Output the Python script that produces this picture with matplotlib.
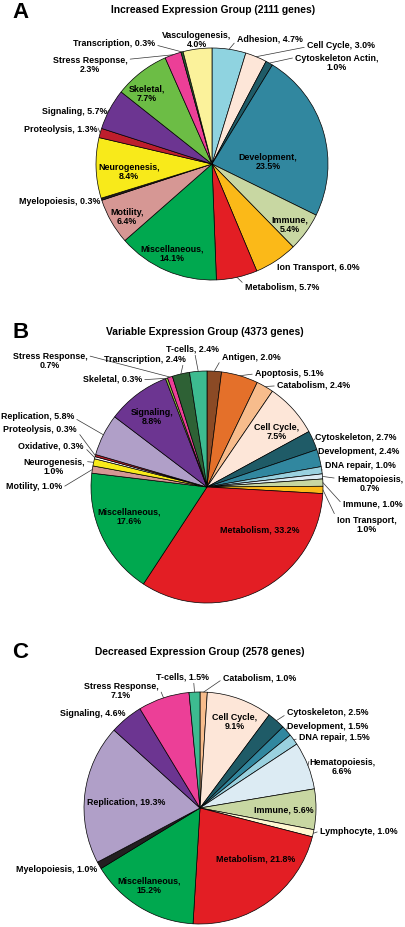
import numpy as np
import matplotlib
matplotlib.use("Agg")
import matplotlib.pyplot as plt

plt.rcParams['font.family'] = ['Liberation Sans', 'DejaVu Sans']
plt.rcParams['font.weight'] = 'bold'

W, H = 405, 928

# ---- panel A: increased expression ----
a_names = ["Adhesion", "Cell Cycle", "Cytoskeleton Actin", "Development", "Immune",
           "Ion Transport", "Metabolism", "Miscellaneous", "Motility", "Myelopoiesis",
           "Neurogenesis", "Proteolysis", "Signaling", "Skeletal", "Stress Response",
           "Transcription", "Vasculogenesis"]
a_vals = [4.7, 3.0, 1.0, 23.5, 5.4, 6.0, 5.7, 14.1, 6.4, 0.3, 8.4, 1.3, 5.7, 7.7, 2.3, 0.3, 4.0]
a_labels = ["Adhesion, 4.7%", "Cell Cycle, 3.0%", "Cytoskeleton Actin,\n1.0%",
            "Development,\n23.5%", "Immune,\n5.4%", "Ion Transport, 6.0%",
            "Metabolism, 5.7%", "Miscellaneous,\n14.1%", "Motility,\n6.4%",
            "Myelopoiesis, 0.3%", "Neurogenesis,\n8.4%", "Proteolysis, 1.3%",
            "Signaling, 5.7%", "Skeletal,\n7.7%", "Stress Response,\n2.3%",
            "Transcription, 0.3%", "Vasculogenesis,\n4.0%"]

# ---- panel B: variable expression ----
b_names = ["Antigen", "Apoptosis", "Catabolism", "Cell Cycle", "Cytoskeleton",
           "Development", "DNA repair", "Hematopoiesis", "Immune", "Ion Transport",
           "Metabolism", "Miscellaneous", "Motility", "Neurogenesis", "Oxidative",
           "Proteolysis", "Replication", "Signaling", "Skeletal", "Stress Response",
           "Transcription", "T-cells"]
b_vals = [2.0, 5.1, 2.4, 7.5, 2.7, 2.4, 1.0, 0.7, 1.0, 1.0, 33.2, 17.6, 1.0, 1.0,
          0.3, 0.3, 5.8, 8.8, 0.3, 0.7, 2.4, 2.4]
b_labels = ["Antigen, 2.0%", "Apoptosis, 5.1%", "Catabolism, 2.4%", "Cell Cycle,\n7.5%",
            "Cytoskeleton, 2.7%", "Development, 2.4%", "DNA repair, 1.0%",
            "Hematopoiesis,\n0.7%", "Immune, 1.0%", "Ion Transport,\n1.0%",
            "Metabolism, 33.2%", "Miscellaneous,\n17.6%", "Motility, 1.0%",
            "Neurogenesis,\n1.0%", "Oxidative, 0.3%", "Proteolysis, 0.3%",
            "Replication, 5.8%", "Signaling,\n8.8%", "Skeletal, 0.3%",
            "Stress Response,\n0.7%", "Transcription, 2.4%", "T-cells, 2.4%"]

# ---- panel C: decreased expression ----
c_names = ["Catabolism", "Cell Cycle", "Cytoskeleton", "Development", "DNA repair",
           "Hematopoiesis", "Immune", "Lymphocyte", "Metabolism", "Miscellaneous",
           "Myelopoiesis", "Replication", "Signaling", "Stress Response", "T-cells"]
c_vals = [1.0, 9.1, 2.5, 1.5, 1.5, 6.6, 5.6, 1.0, 21.8, 15.2, 1.0, 19.3, 4.6, 7.1, 1.5]
c_labels = ["Catabolism, 1.0%", "Cell Cycle,\n9.1%", "Cytoskeleton, 2.5%",
            "Development, 1.5%", "DNA repair, 1.5%", "Hematopoiesis,\n6.6%",
            "Immune, 5.6%", "Lymphocyte, 1.0%", "Metabolism, 21.8%",
            "Miscellaneous,\n15.2%", "Myelopoiesis, 1.0%", "Replication, 19.3%",
            "Signaling, 4.6%", "Stress Response,\n7.1%", "T-cells, 1.5%"]

titles = ["Increased Expression Group (2111 genes)",
          "Variable Expression Group (4373 genes)",
          "Decreased Expression Group (2578 genes)"]
letters = ["A", "B", "C"]

colors = {
    "Adhesion": "#8fd3e0", "Cell Cycle": "#fde6d8", "Cytoskeleton Actin": "#1f5b67",
    "Cytoskeleton": "#1f5b67", "Development": "#31879f", "Immune": "#c8d7a2",
    "Ion Transport": "#fbb918", "Metabolism": "#e31e24", "Miscellaneous": "#00a84f",
    "Motility": "#d69794", "Myelopoiesis": "#231f20", "Neurogenesis": "#f8ea1a",
    "Proteolysis": "#be1e2d", "Signaling": "#6c3591", "Stress Response": "#ec3f97",
    "Transcription": "#2e6135", "Vasculogenesis": "#fbf29b", "Antigen": "#8b4a25",
    "Apoptosis": "#e4702a", "Catabolism": "#f7bc8c", "DNA repair": "#9ad1df",
    "Hematopoiesis": "#dcebf3", "Oxidative": "#ffffff", "Replication": "#b09fc8",
    "T-cells": "#3dbb90", "Lymphocyte": "#fff8d2",
}
skeletal_col = ["#6cbd45", "#8dc63f"]

# layout: pie centre / radius in pixels, label (x, y, ha, relpos of leader line)
centers = [(212, 165), (207, 488), (200, 809)]
R = 116
title_pos = [(213, 10), (205, 332), (200, 652)]
letter_pos = [(12, 13), (12, 333), (12, 653)]

a_lay = [(237, 39, "left", (0, 0.3)), (307, 46, "left", (0, 0.3)),
         (337, 63, "center", (0, 0.75)), (268, 162, "center", None),
         (290, 225, "center", None), (277, 268, "left", None),
         (245, 287, "left", (0, 0.6)), (172, 254, "center", None),
         (127, 217, "center", None), (100, 202, "right", None),
         (129, 172, "center", None), (98, 129, "right", (1, 0.5)),
         (107, 112, "right", (1, 0.3)), (147, 94, "center", None),
         (90, 65, "center", (1, 0.75)), (155, 44, "right", (1, 0.3)),
         (197, 40, "center", None)]
b_lay = [(222, 357, "left", (0, 0.3)), (255, 373, "left", (0, 0.3)),
         (277, 385, "left", (0, 0.3)), (277, 432, "center", None),
         (315, 438, "left", (0, 0.3)), (318, 452, "left", (0, 0.3)),
         (325, 466, "left", (0, 0.3)), (370, 484, "center", (0, 0.75)),
         (343, 504, "left", (0, 0.3)), (367, 525, "center", (0, 0.75)),
         (260, 530, "center", None), (129, 517, "center", None),
         (62, 487, "right", (1, 0.3)), (54, 467, "center", (1, 0.75)),
         (84, 446, "right", (1, 0.3)), (77, 430, "right", (1, 0.3)),
         (74, 417, "right", (1, 0.3)), (152, 417, "center", None),
         (142, 379, "right", (1, 0.3)), (50, 361, "center", (1, 0.75)),
         (145, 359, "center", (0.97, 0)), (192, 349, "center", (0.55, 0))]
c_lay = [(223, 678, "left", (0, 0.3)), (235, 722, "center", None),
         (287, 713, "left", (0, 0.3)), (287, 727, "left", (0, 0.3)),
         (299, 738, "left", (0, 0.3)), (342, 767, "center", (0, 0.75)),
         (284, 810, "center", None), (320, 832, "left", (0, 0.5)),
         (256, 859, "center", None), (149, 886, "center", None),
         (97, 870, "right", None), (126, 803, "center", None),
         (125, 714, "right", None), (121, 691, "center", (1, 0.75)),
         (183, 677, "center", (0.7, 0))]

fig = plt.figure(figsize=(W / 100, H / 100), dpi=100)
ax = fig.add_axes([0, 0, 1, 1])

panels = [(a_names, a_vals, a_labels, a_lay), (b_names, b_vals, b_labels, b_lay),
          (c_names, c_vals, c_labels, c_lay)]

for i, (names, vals, labels, lay) in enumerate(panels):
    cx, cy = centers[i]
    cols = []
    for n in names:
        if n == "Skeletal":
            cols.append(skeletal_col[i])
        else:
            cols.append(colors[n])
    wedges, _ = ax.pie(vals, colors=cols, startangle=90, counterclock=False,
                       center=(cx, H - cy), radius=R,
                       wedgeprops=dict(edgecolor="black", linewidth=0.5))
    for w, lab, (tx, ty, ha, rel) in zip(wedges, labels, lay):
        if rel is None:
            ax.text(tx, H - ty, lab, ha=ha, va="center", fontsize=6.4,
                    fontweight="bold", linespacing=1.05)
        else:
            mid = np.deg2rad((w.theta1 + w.theta2) / 2)
            px = cx + R * np.cos(mid)
            py = H - cy + R * np.sin(mid)
            ax.annotate(lab, xy=(px, py), xytext=(tx, H - ty), ha=ha, va="center",
                        fontsize=6.4, fontweight="bold", linespacing=1.05,
                        arrowprops=dict(arrowstyle="-", lw=0.5, color="#333333",
                                        relpos=rel, shrinkA=0, shrinkB=0))
    ax.text(title_pos[i][0], H - title_pos[i][1], titles[i], ha="center", va="center",
            fontsize=7.4, fontweight="bold")
    ax.text(letter_pos[i][0], H - letter_pos[i][1], letters[i], ha="left", va="center",
            fontsize=16, fontweight="bold")

ax.set_xlim(0, W)
ax.set_ylim(0, H)
ax.set_aspect("auto")
ax.axis("off")

fig.savefig("out.png", dpi=100, facecolor="white")
